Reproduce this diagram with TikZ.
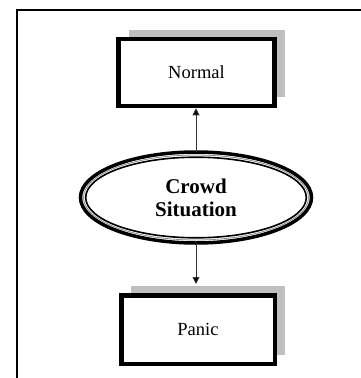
\documentclass[tikz,border=0pt]{standalone}
\usepackage{fontspec}
\setmainfont{Liberation Serif}
\usetikzlibrary{shapes.geometric,arrows.meta,shadows}
\begin{document}
\begin{tikzpicture}[x=1pt,y=-1pt,
  boxnode/.style={draw=black, line width=4.5pt, fill=white, rectangle, inner sep=0pt,
    minimum width=156pt, minimum height=67pt, font=\fontsize{18.5}{20}\selectfont,
    drop shadow={shadow xshift=10pt, shadow yshift=9pt, fill=black!25, opacity=1}},
  ellnode/.style={draw=black, line width=3.5pt, ellipse, inner sep=0pt, outer sep=0pt,
    minimum width=231pt, minimum height=91pt, align=center,
    font=\bfseries\fontsize{21}{23}\selectfont},
  arr/.style={draw=black!80, line width=0.9pt, -{Triangle[length=7pt,width=7pt,fill=black]}}
]
\useasboundingbox (0,0) rectangle (361,378);
\clip (0,0) rectangle (361,378);
\draw[line width=2pt] (17,395) -- (17,10) -- (375,10);
\node[boxnode] (normal) at (196.5,72.5) {\raisebox{-5pt}{Normal}};
\node[boxnode, minimum width=153.5pt, minimum height=68.5pt] (panic) at (198,329.5) {\raisebox{-4pt}{Panic}};
\node[ellnode] (crowd) at (196,197.5) {Crowd\\Situation};
\draw[black!45, line width=0.8pt] (crowd.center) ellipse [x radius=112.5, y radius=42.5];
\draw[black, line width=1.6pt] (crowd.center) ellipse [x radius=110.3, y radius=40.3];
\draw[arr] (crowd.north) -- (crowd.north |- normal.south);
\path (crowd.south |- panic.north) ++(0,-9) coordinate (ptop);
\draw[arr] (crowd.south) -- (ptop);
\end{tikzpicture}
\end{document}
